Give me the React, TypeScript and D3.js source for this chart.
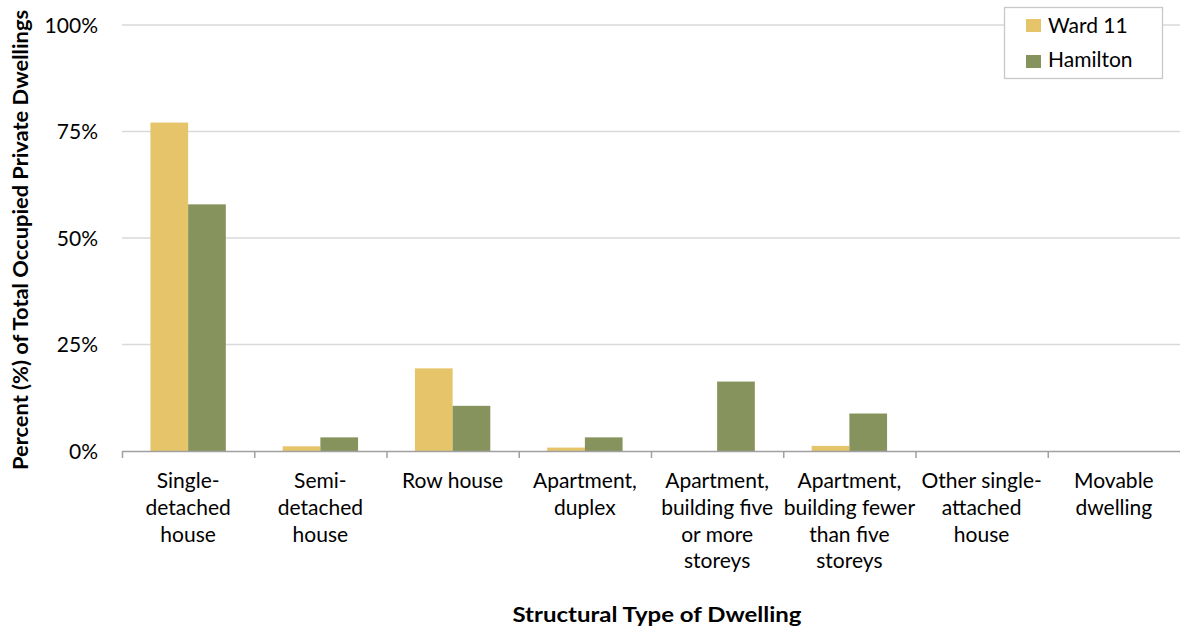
import React from "react";
import * as d3 from "d3";

const categories: string[][] = [
  ["Single-", "detached", "house"],
  ["Semi-", "detached", "house"],
  ["Row house"],
  ["Apartment,", "duplex"],
  ["Apartment,", "building five", "or more", "storeys"],
  ["Apartment,", "building fewer", "than five", "storeys"],
  ["Other single-", "attached", "house"],
  ["Movable", "dwelling"],
];
const seriesNames = ["Ward 11", "Hamilton"];
const ward11 = [77.1, 1.1, 19.4, 0.8, 0, 1.2, 0, 0];
const hamilton = [57.9, 3.2, 10.6, 3.2, 16.3, 8.8, 0, 0];
const yTicks = [0, 25, 50, 75, 100];
const colors = ["#E6C46A", "#87935D"];

const W = 1180, H = 628;
const left = 122, right = 1180, top = 25, bottom = 451;
const font = "Lato, 'Open Sans', sans-serif";

export default function App() {
  const x0 = d3.scaleBand<number>().domain(d3.range(categories.length)).range([left, right]).paddingInner(0).paddingOuter(0);
  const bw = x0.bandwidth();
  const groupW = bw * 0.57;
  const x1 = d3.scaleBand<number>().domain([0, 1]).range([0, groupW]);
  const y = d3.scaleLinear().domain([0, 100]).range([bottom, top]);
  const series = [ward11, hamilton];

  return (
    <svg width={W} height={H} style={{ position: "absolute", left: 0, top: 0 }} fontFamily={font}>
      <rect width={W} height={H} fill="#fff" />
      {yTicks.map((t) => (
        <g key={t}>
          {t > 0 && <line x1={left} x2={right} y1={y(t)} y2={y(t)} stroke="#d9d9d9" strokeWidth={1.3} />}
          <text x={98} y={y(t)} dy="0.36em" textAnchor="end" fontSize={21} fill="#000">{t}%</text>
        </g>
      ))}
      {series.map((s, si) =>
        s.map((v, i) => (
          <rect
            key={`${si}-${i}`}
            x={(x0(i) as number) + (bw - groupW) / 2 + (x1(si) as number)}
            y={y(v)}
            width={x1.bandwidth()}
            height={bottom - y(v)}
            fill={colors[si]}
          />
        ))
      )}
      <line x1={left} x2={right} y1={bottom + 0.5} y2={bottom + 0.5} stroke="#a0a0a0" strokeWidth={1.5} />
      {d3.range(categories.length).map((i) => (
        <line key={i} x1={(x0(i) as number) + 0.5} x2={(x0(i) as number) + 0.5} y1={bottom} y2={bottom + 7} stroke="#a0a0a0" strokeWidth={1.5} />
      ))}
      {categories.map((lines, i) => (
        <text key={i} textAnchor="middle" fontSize={21} fill="#000">
          {lines.map((l, j) => (
            <tspan key={j} x={(x0(i) as number) + bw / 2} y={488 + j * 26.8}>{l}</tspan>
          ))}
        </text>
      ))}
      <text x={657} y={622} textAnchor="middle" fontSize={20} fontWeight="bold" textLength={289} lengthAdjust="spacingAndGlyphs">Structural Type of Dwelling</text>
      <text transform="translate(28,240) rotate(-90)" textAnchor="middle" fontSize={20} fontWeight="bold" textLength={460} lengthAdjust="spacingAndGlyphs">
        Percent (%) of Total Occupied Private Dwellings
      </text>
      <rect x={1004.5} y={7.5} width={158} height={71} fill="#fff" stroke="#c8c8c8" strokeWidth={1.3} />
      {seriesNames.map((n, i) => (
        <g key={n}>
          <rect x={1026} y={19 + i * 36} width={15} height={13} fill={colors[i]} />
          <text x={1048} y={33 + i * 34} fontSize={21}>{n}</text>
        </g>
      ))}
    </svg>
  );
}
